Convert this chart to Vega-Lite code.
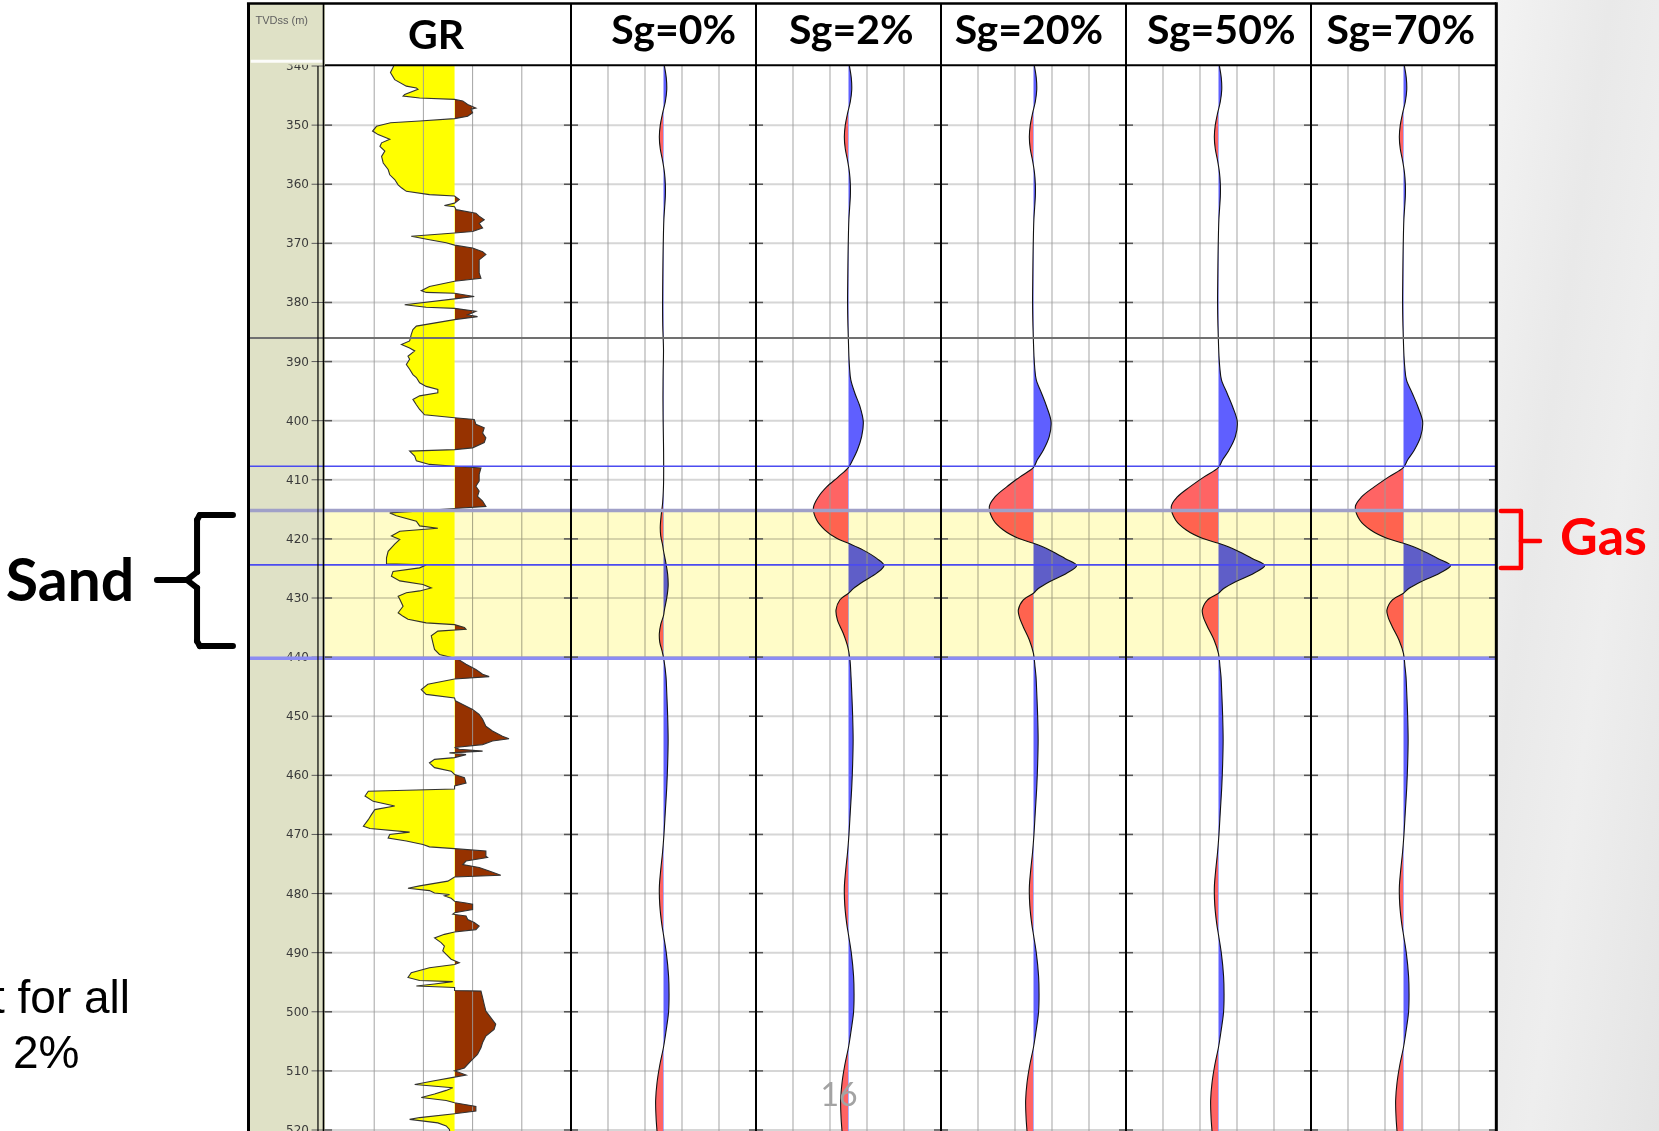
{
  "$schema": "https://vega.github.io/schema/vega-lite/v6.json",
  "padding": 0,
  "background": "#ffffff",
  "spacing": 0,
  "bounds": "flush",
  "config": {"view": {"stroke": null}, "axis": {"disable": true}, "legend": {"disable": true}},
  "datasets": {
    "depthTicks": [{"depth":340},{"depth":350},{"depth":360},{"depth":370},{"depth":380},{"depth":390},{"depth":400},{"depth":410},{"depth":420},{"depth":430},{"depth":440},{"depth":450},{"depth":460},{"depth":470},{"depth":480},{"depth":490},{"depth":500},{"depth":510},{"depth":520}],
    "surfaces": [{"depth":386.0,"surface":"H1"},{"depth":407.7,"surface":"H2"},{"depth":415.2,"surface":"Sand top"},{"depth":424.4,"surface":"GWC"},{"depth":440.2,"surface":"Sand base"}],
    "zones": [{"zone":"Sand","top":415.2,"base":440.2}],
    "gr": [
      {"depth":340.0,"gr":41.9},{"depth":341.1,"gr":39.9},{"depth":342.3,"gr":42.5},{"depth":343.4,"gr":49.6},{"depth":343.7,"gr":55.7},{"depth":343.95,"gr":56.7},{"depth":344.8,"gr":48.6},{"depth":345.1,"gr":47.6},{"depth":345.4,"gr":57.7},{"depth":345.65,"gr":79.0},{"depth":345.9,"gr":84.0},{"depth":346.5,"gr":87.0},{"depth":347.1,"gr":92.0},{"depth":347.3,"gr":89.0},{"depth":347.9,"gr":90.0},{"depth":348.5,"gr":87.0},{"depth":348.9,"gr":79.0},{"depth":349.3,"gr":57.7},{"depth":349.6,"gr":40.0},{"depth":350.2,"gr":31.4},{"depth":351.0,"gr":29.0},{"depth":351.6,"gr":32.4},{"depth":352.4,"gr":39.5},{"depth":353.0,"gr":34.5},{"depth":353.6,"gr":33.5},{"depth":354.4,"gr":36.5},{"depth":355.3,"gr":34.5},{"depth":356.4,"gr":35.5},{"depth":357.5,"gr":38.5},{"depth":358.4,"gr":39.5},{"depth":359.2,"gr":42.5},{"depth":360.1,"gr":44.6},{"depth":360.6,"gr":46.6},{"depth":361.2,"gr":49.6},{"depth":361.75,"gr":63.7},{"depth":362.0,"gr":79.0},{"depth":362.6,"gr":81.9},{"depth":363.2,"gr":79.0},{"depth":363.6,"gr":72.8},{"depth":363.8,"gr":79.0},{"depth":364.3,"gr":80.0},{"depth":364.9,"gr":92.0},{"depth":365.4,"gr":94.0},{"depth":366.0,"gr":97.1},{"depth":366.6,"gr":94.0},{"depth":367.4,"gr":96.1},{"depth":368.0,"gr":90.0},{"depth":368.25,"gr":79.0},{"depth":368.8,"gr":52.6},{"depth":369.4,"gr":63.7},{"depth":369.9,"gr":73.9},{"depth":370.3,"gr":79.0},{"depth":370.8,"gr":90.0},{"depth":371.4,"gr":96.1},{"depth":371.9,"gr":98.1},{"depth":372.8,"gr":94.0},{"depth":375.0,"gr":94.0},{"depth":375.9,"gr":95.1},{"depth":376.4,"gr":79.0},{"depth":377.3,"gr":63.7},{"depth":378.0,"gr":58.7},{"depth":378.3,"gr":61.7},{"depth":378.45,"gr":79.0},{"depth":379.0,"gr":91.0},{"depth":379.4,"gr":79.0},{"depth":380.4,"gr":48.6},{"depth":380.8,"gr":61.7},{"depth":381.0,"gr":79.0},{"depth":381.5,"gr":92.0},{"depth":382.1,"gr":87.0},{"depth":382.4,"gr":93.0},{"depth":382.9,"gr":79.0},{"depth":384.0,"gr":55.7},{"depth":384.6,"gr":53.6},{"depth":385.4,"gr":52.6},{"depth":386.5,"gr":51.6},{"depth":387.1,"gr":46.6},{"depth":387.7,"gr":51.6},{"depth":388.2,"gr":54.7},{"depth":389.1,"gr":50.6},{"depth":389.6,"gr":51.6},{"depth":390.5,"gr":49.6},{"depth":391.3,"gr":51.6},{"depth":392.2,"gr":53.6},{"depth":392.7,"gr":55.7},{"depth":393.6,"gr":57.7},{"depth":394.2,"gr":61.7},{"depth":394.7,"gr":68.8},{"depth":395.3,"gr":68.8},{"depth":395.8,"gr":57.7},{"depth":396.4,"gr":53.6},{"depth":397.3,"gr":55.7},{"depth":398.1,"gr":57.7},{"depth":399.0,"gr":60.7},{"depth":399.5,"gr":79.0},{"depth":399.8,"gr":91.0},{"depth":400.6,"gr":92.0},{"depth":401.2,"gr":97.1},{"depth":402.1,"gr":96.1},{"depth":402.9,"gr":98.1},{"depth":403.7,"gr":97.1},{"depth":404.6,"gr":90.0},{"depth":404.9,"gr":79.0},{"depth":405.15,"gr":51.6},{"depth":406.0,"gr":54.7},{"depth":406.8,"gr":55.7},{"depth":407.4,"gr":63.7},{"depth":407.7,"gr":79.0},{"depth":408.0,"gr":95.1},{"depth":409.1,"gr":94.0},{"depth":410.2,"gr":94.0},{"depth":411.1,"gr":92.0},{"depth":411.9,"gr":94.0},{"depth":412.8,"gr":93.0},{"depth":413.6,"gr":96.1},{"depth":414.5,"gr":98.1},{"depth":414.85,"gr":79.0},{"depth":415.3,"gr":55.7},{"depth":415.6,"gr":39.5},{"depth":416.1,"gr":43.5},{"depth":417.0,"gr":55.7},{"depth":417.8,"gr":57.7},{"depth":418.2,"gr":68.8},{"depth":418.7,"gr":45.6},{"depth":419.5,"gr":40.5},{"depth":420.1,"gr":45.6},{"depth":420.9,"gr":42.5},{"depth":422.1,"gr":38.5},{"depth":423.2,"gr":37.5},{"depth":424.2,"gr":37.5},{"depth":424.4,"gr":61.7},{"depth":424.9,"gr":57.7},{"depth":425.5,"gr":41.5},{"depth":426.3,"gr":40.5},{"depth":427.1,"gr":45.6},{"depth":427.7,"gr":59.7},{"depth":428.3,"gr":64.8},{"depth":428.8,"gr":57.7},{"depth":429.1,"gr":49.6},{"depth":429.7,"gr":44.6},{"depth":430.2,"gr":45.6},{"depth":431.4,"gr":47.6},{"depth":432.5,"gr":44.6},{"depth":433.1,"gr":47.6},{"depth":433.6,"gr":50.6},{"depth":434.2,"gr":61.7},{"depth":434.5,"gr":79.0},{"depth":435.0,"gr":85.0},{"depth":435.3,"gr":86.0},{"depth":435.6,"gr":68.8},{"depth":436.4,"gr":64.8},{"depth":437.6,"gr":65.8},{"depth":438.7,"gr":66.8},{"depth":439.55,"gr":69.8},{"depth":440.1,"gr":77.9},{"depth":440.5,"gr":81.9},{"depth":441.2,"gr":86.0},{"depth":442.1,"gr":92.0},{"depth":442.9,"gr":96.1},{"depth":443.3,"gr":100.1},{"depth":443.7,"gr":79.0},{"depth":444.6,"gr":62.7},{"depth":445.5,"gr":58.7},{"depth":446.3,"gr":61.7},{"depth":446.9,"gr":79.0},{"depth":447.4,"gr":79.5},{"depth":448.0,"gr":84.0},{"depth":448.85,"gr":90.0},{"depth":449.7,"gr":94.0},{"depth":450.5,"gr":96.1},{"depth":451.7,"gr":98.1},{"depth":452.5,"gr":102.1},{"depth":453.4,"gr":108.2},{"depth":453.8,"gr":112.2},{"depth":454.2,"gr":102.1},{"depth":454.8,"gr":96.1},{"depth":455.3,"gr":79.0},{"depth":455.6,"gr":81.9},{"depth":455.9,"gr":96.1},{"depth":456.2,"gr":75.9},{"depth":456.5,"gr":86.0},{"depth":457.0,"gr":79.0},{"depth":457.3,"gr":66.8},{"depth":457.9,"gr":63.7},{"depth":458.7,"gr":66.8},{"depth":459.3,"gr":76.9},{"depth":459.85,"gr":79.0},{"depth":460.4,"gr":85.0},{"depth":461.3,"gr":86.0},{"depth":461.8,"gr":79.0},{"depth":462.3,"gr":79.0},{"depth":462.7,"gr":26.4},{"depth":463.5,"gr":24.4},{"depth":464.4,"gr":29.4},{"depth":465.2,"gr":42.5},{"depth":465.8,"gr":30.4},{"depth":466.6,"gr":28.4},{"depth":467.5,"gr":26.4},{"depth":468.6,"gr":23.4},{"depth":469.0,"gr":27.4},{"depth":469.6,"gr":51.6},{"depth":470.0,"gr":39.5},{"depth":470.6,"gr":38.5},{"depth":471.1,"gr":49.6},{"depth":471.7,"gr":59.7},{"depth":472.1,"gr":63.7},{"depth":472.4,"gr":79.0},{"depth":472.8,"gr":98.1},{"depth":473.7,"gr":98.1},{"depth":473.9,"gr":99.1},{"depth":474.5,"gr":86.0},{"depth":475.1,"gr":84.0},{"depth":475.6,"gr":94.0},{"depth":476.2,"gr":100.1},{"depth":476.9,"gr":107.2},{"depth":477.2,"gr":79.0},{"depth":477.9,"gr":74.9},{"depth":478.7,"gr":57.7},{"depth":479.1,"gr":50.6},{"depth":479.5,"gr":63.7},{"depth":479.9,"gr":66.8},{"depth":480.15,"gr":75.9},{"depth":480.4,"gr":72.8},{"depth":480.8,"gr":76.9},{"depth":481.3,"gr":79.0},{"depth":481.6,"gr":86.0},{"depth":481.8,"gr":90.0},{"depth":482.7,"gr":90.0},{"depth":483.25,"gr":79.0},{"depth":483.5,"gr":77.9},{"depth":483.8,"gr":86.0},{"depth":484.4,"gr":87.0},{"depth":484.9,"gr":91.0},{"depth":485.5,"gr":94.0},{"depth":486.1,"gr":92.0},{"depth":486.5,"gr":79.0},{"depth":486.9,"gr":72.8},{"depth":487.5,"gr":66.8},{"depth":488.3,"gr":70.8},{"depth":488.9,"gr":72.8},{"depth":489.7,"gr":71.8},{"depth":490.3,"gr":73.9},{"depth":491.1,"gr":76.9},{"depth":491.7,"gr":81.9},{"depth":492.0,"gr":79.0},{"depth":492.55,"gr":63.7},{"depth":493.4,"gr":52.6},{"depth":494.2,"gr":50.6},{"depth":494.7,"gr":57.7},{"depth":494.9,"gr":77.9},{"depth":495.3,"gr":66.8},{"depth":495.65,"gr":55.7},{"depth":495.9,"gr":79.0},{"depth":496.4,"gr":79.0},{"depth":496.5,"gr":95.1},{"depth":497.6,"gr":96.1},{"depth":498.8,"gr":97.1},{"depth":499.9,"gr":98.1},{"depth":501.0,"gr":101.1},{"depth":502.1,"gr":104.1},{"depth":503.0,"gr":103.1},{"depth":504.1,"gr":98.1},{"depth":505.2,"gr":96.1},{"depth":506.1,"gr":95.1},{"depth":507.2,"gr":93.0},{"depth":508.3,"gr":89.0},{"depth":509.5,"gr":85.0},{"depth":510.0,"gr":79.0},{"depth":510.7,"gr":86.0},{"depth":511.05,"gr":79.0},{"depth":511.7,"gr":65.8},{"depth":512.3,"gr":54.7},{"depth":512.85,"gr":77.9},{"depth":513.3,"gr":73.9},{"depth":513.9,"gr":66.8},{"depth":514.5,"gr":58.7},{"depth":515.0,"gr":73.9},{"depth":515.4,"gr":79.0},{"depth":516.0,"gr":92.0},{"depth":516.8,"gr":92.0},{"depth":517.25,"gr":79.0},{"depth":517.9,"gr":57.7},{"depth":518.2,"gr":51.6},{"depth":518.8,"gr":68.8},{"depth":519.3,"gr":73.9},{"depth":519.9,"gr":75.9},{"depth":520.17,"gr":76.0}
    ],
    "synthetics": [
      {"case":"Sg=0%","depth":340,"amp":0.01},{"case":"Sg=0%","depth":342,"amp":0.03},{"case":"Sg=0%","depth":344,"amp":0.035},{"case":"Sg=0%","depth":346,"amp":0.02},{"case":"Sg=0%","depth":348,"amp":-0.01},{"case":"Sg=0%","depth":350,"amp":-0.035},{"case":"Sg=0%","depth":352,"amp":-0.045},{"case":"Sg=0%","depth":354,"amp":-0.035},{"case":"Sg=0%","depth":356,"amp":-0.01},{"case":"Sg=0%","depth":358,"amp":0.01},{"case":"Sg=0%","depth":360,"amp":0.02},{"case":"Sg=0%","depth":362,"amp":0.02},{"case":"Sg=0%","depth":364,"amp":0.012},{"case":"Sg=0%","depth":366,"amp":0.004},{"case":"Sg=0%","depth":368,"amp":0},{"case":"Sg=0%","depth":372,"amp":-0.005},{"case":"Sg=0%","depth":376,"amp":-0.008},{"case":"Sg=0%","depth":380,"amp":-0.01},{"case":"Sg=0%","depth":384,"amp":-0.008},
      {"case":"Sg=0%","depth":388,"amp":0},{"case":"Sg=0%","depth":392,"amp":-0.004},{"case":"Sg=0%","depth":396,"amp":-0.006},{"case":"Sg=0%","depth":400,"amp":-0.004},{"case":"Sg=0%","depth":404,"amp":0},{"case":"Sg=0%","depth":408,"amp":0.002},{"case":"Sg=0%","depth":411,"amp":0},{"case":"Sg=0%","depth":414,"amp":-0.01},{"case":"Sg=0%","depth":416,"amp":-0.025},{"case":"Sg=0%","depth":418,"amp":-0.035},{"case":"Sg=0%","depth":419.5,"amp":-0.03},{"case":"Sg=0%","depth":421,"amp":-0.01},{"case":"Sg=0%","depth":422,"amp":0},{"case":"Sg=0%","depth":424,"amp":0.025},{"case":"Sg=0%","depth":426,"amp":0.045},{"case":"Sg=0%","depth":428,"amp":0.05},{"case":"Sg=0%","depth":430,"amp":0.035},{"case":"Sg=0%","depth":432,"amp":0.01},{"case":"Sg=0%","depth":433,"amp":0},{"case":"Sg=0%","depth":434.5,"amp":-0.03},{"case":"Sg=0%","depth":436,"amp":-0.045},{"case":"Sg=0%","depth":437.5,"amp":-0.04},{"case":"Sg=0%","depth":439,"amp":-0.015},{"case":"Sg=0%","depth":440.5,"amp":0.005},{"case":"Sg=0%","depth":443.3,"amp":0.027},
      {"case":"Sg=0%","depth":446,"amp":0.035},{"case":"Sg=0%","depth":450,"amp":0.045},{"case":"Sg=0%","depth":454,"amp":0.05},{"case":"Sg=0%","depth":458,"amp":0.045},{"case":"Sg=0%","depth":462,"amp":0.035},{"case":"Sg=0%","depth":466,"amp":0.02},{"case":"Sg=0%","depth":470,"amp":0.005},{"case":"Sg=0%","depth":473,"amp":-0.01},{"case":"Sg=0%","depth":476,"amp":-0.03},{"case":"Sg=0%","depth":479,"amp":-0.045},{"case":"Sg=0%","depth":482,"amp":-0.04},{"case":"Sg=0%","depth":485,"amp":-0.02},{"case":"Sg=0%","depth":487,"amp":0},{"case":"Sg=0%","depth":490,"amp":0.03},{"case":"Sg=0%","depth":494,"amp":0.055},{"case":"Sg=0%","depth":497,"amp":0.06},{"case":"Sg=0%","depth":500,"amp":0.055},{"case":"Sg=0%","depth":503,"amp":0.03},{"case":"Sg=0%","depth":506,"amp":0},{"case":"Sg=0%","depth":509,"amp":-0.04},{"case":"Sg=0%","depth":512,"amp":-0.07},{"case":"Sg=0%","depth":515,"amp":-0.085},{"case":"Sg=0%","depth":518,"amp":-0.08},{"case":"Sg=0%","depth":520.17,"amp":-0.07},

      {"case":"Sg=2%","depth":340,"amp":0.01},{"case":"Sg=2%","depth":342,"amp":0.03},{"case":"Sg=2%","depth":344,"amp":0.035},{"case":"Sg=2%","depth":346,"amp":0.02},{"case":"Sg=2%","depth":348,"amp":-0.01},{"case":"Sg=2%","depth":350,"amp":-0.035},{"case":"Sg=2%","depth":352,"amp":-0.045},{"case":"Sg=2%","depth":354,"amp":-0.035},{"case":"Sg=2%","depth":356,"amp":-0.01},{"case":"Sg=2%","depth":358,"amp":0.01},{"case":"Sg=2%","depth":360,"amp":0.02},{"case":"Sg=2%","depth":362,"amp":0.02},{"case":"Sg=2%","depth":364,"amp":0.012},{"case":"Sg=2%","depth":366,"amp":0.004},{"case":"Sg=2%","depth":368,"amp":0},{"case":"Sg=2%","depth":372,"amp":-0.005},{"case":"Sg=2%","depth":376,"amp":-0.008},{"case":"Sg=2%","depth":380,"amp":-0.01},{"case":"Sg=2%","depth":384,"amp":-0.006},
      {"case":"Sg=2%","depth":387,"amp":0},{"case":"Sg=2%","depth":389,"amp":0.004},{"case":"Sg=2%","depth":391,"amp":0.011},{"case":"Sg=2%","depth":393.1,"amp":0.025},{"case":"Sg=2%","depth":395.4,"amp":0.07},{"case":"Sg=2%","depth":397.6,"amp":0.124},{"case":"Sg=2%","depth":400.2,"amp":0.16},{"case":"Sg=2%","depth":402.7,"amp":0.142},{"case":"Sg=2%","depth":405,"amp":0.095},{"case":"Sg=2%","depth":406.65,"amp":0.045},{"case":"Sg=2%","depth":407.9,"amp":0},{"case":"Sg=2%","depth":409.5,"amp":-0.11},{"case":"Sg=2%","depth":411.2,"amp":-0.236},{"case":"Sg=2%","depth":412.9,"amp":-0.326},{"case":"Sg=2%","depth":414.8,"amp":-0.38},{"case":"Sg=2%","depth":416.8,"amp":-0.344},{"case":"Sg=2%","depth":418.5,"amp":-0.254},{"case":"Sg=2%","depth":419.9,"amp":-0.128},{"case":"Sg=2%","depth":420.75,"amp":0},{"case":"Sg=2%","depth":421.9,"amp":0.16},{"case":"Sg=2%","depth":423.3,"amp":0.305},{"case":"Sg=2%","depth":424.5,"amp":0.384},{"case":"Sg=2%","depth":425.8,"amp":0.305},{"case":"Sg=2%","depth":427.2,"amp":0.16},{"case":"Sg=2%","depth":428.4,"amp":0.052},{"case":"Sg=2%","depth":429.2,"amp":0},{"case":"Sg=2%","depth":430.3,"amp":-0.092},{"case":"Sg=2%","depth":432,"amp":-0.135},{"case":"Sg=2%","depth":433.7,"amp":-0.12},{"case":"Sg=2%","depth":436,"amp":-0.056},{"case":"Sg=2%","depth":438.2,"amp":-0.009},{"case":"Sg=2%","depth":440.5,"amp":0.016},{"case":"Sg=2%","depth":443.3,"amp":0.027},
      {"case":"Sg=2%","depth":446,"amp":0.035},{"case":"Sg=2%","depth":450,"amp":0.045},{"case":"Sg=2%","depth":454,"amp":0.05},{"case":"Sg=2%","depth":458,"amp":0.045},{"case":"Sg=2%","depth":462,"amp":0.035},{"case":"Sg=2%","depth":466,"amp":0.02},{"case":"Sg=2%","depth":470,"amp":0.005},{"case":"Sg=2%","depth":473,"amp":-0.01},{"case":"Sg=2%","depth":476,"amp":-0.03},{"case":"Sg=2%","depth":479,"amp":-0.045},{"case":"Sg=2%","depth":482,"amp":-0.04},{"case":"Sg=2%","depth":485,"amp":-0.02},{"case":"Sg=2%","depth":487,"amp":0},{"case":"Sg=2%","depth":490,"amp":0.03},{"case":"Sg=2%","depth":494,"amp":0.055},{"case":"Sg=2%","depth":497,"amp":0.06},{"case":"Sg=2%","depth":500,"amp":0.055},{"case":"Sg=2%","depth":503,"amp":0.03},{"case":"Sg=2%","depth":506,"amp":0},{"case":"Sg=2%","depth":509,"amp":-0.04},{"case":"Sg=2%","depth":512,"amp":-0.07},{"case":"Sg=2%","depth":515,"amp":-0.085},{"case":"Sg=2%","depth":518,"amp":-0.08},{"case":"Sg=2%","depth":520.17,"amp":-0.07},

      {"case":"Sg=20%","depth":340,"amp":0.01},{"case":"Sg=20%","depth":342,"amp":0.03},{"case":"Sg=20%","depth":344,"amp":0.035},{"case":"Sg=20%","depth":346,"amp":0.02},{"case":"Sg=20%","depth":348,"amp":-0.01},{"case":"Sg=20%","depth":350,"amp":-0.035},{"case":"Sg=20%","depth":352,"amp":-0.045},{"case":"Sg=20%","depth":354,"amp":-0.035},{"case":"Sg=20%","depth":356,"amp":-0.01},{"case":"Sg=20%","depth":358,"amp":0.01},{"case":"Sg=20%","depth":360,"amp":0.02},{"case":"Sg=20%","depth":362,"amp":0.02},{"case":"Sg=20%","depth":364,"amp":0.012},{"case":"Sg=20%","depth":366,"amp":0.004},{"case":"Sg=20%","depth":368,"amp":0},{"case":"Sg=20%","depth":372,"amp":-0.005},{"case":"Sg=20%","depth":376,"amp":-0.008},{"case":"Sg=20%","depth":380,"amp":-0.01},{"case":"Sg=20%","depth":384,"amp":-0.006},
      {"case":"Sg=20%","depth":387,"amp":0},{"case":"Sg=20%","depth":389,"amp":0.005},{"case":"Sg=20%","depth":391,"amp":0.013},{"case":"Sg=20%","depth":393.1,"amp":0.03},{"case":"Sg=20%","depth":395.4,"amp":0.088},{"case":"Sg=20%","depth":397.6,"amp":0.142},{"case":"Sg=20%","depth":400.2,"amp":0.19},{"case":"Sg=20%","depth":402.7,"amp":0.17},{"case":"Sg=20%","depth":405,"amp":0.106},{"case":"Sg=20%","depth":406.65,"amp":0.04},{"case":"Sg=20%","depth":407.9,"amp":0},{"case":"Sg=20%","depth":409.5,"amp":-0.146},{"case":"Sg=20%","depth":411.2,"amp":-0.29},{"case":"Sg=20%","depth":412.9,"amp":-0.416},{"case":"Sg=20%","depth":414.5,"amp":-0.477},{"case":"Sg=20%","depth":416.8,"amp":-0.434},{"case":"Sg=20%","depth":418.5,"amp":-0.326},{"case":"Sg=20%","depth":419.9,"amp":-0.164},{"case":"Sg=20%","depth":420.75,"amp":0},{"case":"Sg=20%","depth":421.9,"amp":0.178},{"case":"Sg=20%","depth":423.3,"amp":0.34},{"case":"Sg=20%","depth":424.5,"amp":0.467},{"case":"Sg=20%","depth":425.8,"amp":0.358},{"case":"Sg=20%","depth":427.2,"amp":0.178},{"case":"Sg=20%","depth":428.4,"amp":0.052},{"case":"Sg=20%","depth":429.2,"amp":0},{"case":"Sg=20%","depth":430.3,"amp":-0.11},{"case":"Sg=20%","depth":432,"amp":-0.164},{"case":"Sg=20%","depth":433.2,"amp":-0.153},{"case":"Sg=20%","depth":434.9,"amp":-0.11},{"case":"Sg=20%","depth":437.1,"amp":-0.045},{"case":"Sg=20%","depth":439.4,"amp":0},{"case":"Sg=20%","depth":441.6,"amp":0.016},{"case":"Sg=20%","depth":443.3,"amp":0.027},
      {"case":"Sg=20%","depth":446,"amp":0.035},{"case":"Sg=20%","depth":450,"amp":0.045},{"case":"Sg=20%","depth":454,"amp":0.05},{"case":"Sg=20%","depth":458,"amp":0.045},{"case":"Sg=20%","depth":462,"amp":0.035},{"case":"Sg=20%","depth":466,"amp":0.02},{"case":"Sg=20%","depth":470,"amp":0.005},{"case":"Sg=20%","depth":473,"amp":-0.01},{"case":"Sg=20%","depth":476,"amp":-0.03},{"case":"Sg=20%","depth":479,"amp":-0.045},{"case":"Sg=20%","depth":482,"amp":-0.04},{"case":"Sg=20%","depth":485,"amp":-0.02},{"case":"Sg=20%","depth":487,"amp":0},{"case":"Sg=20%","depth":490,"amp":0.03},{"case":"Sg=20%","depth":494,"amp":0.055},{"case":"Sg=20%","depth":497,"amp":0.06},{"case":"Sg=20%","depth":500,"amp":0.055},{"case":"Sg=20%","depth":503,"amp":0.03},{"case":"Sg=20%","depth":506,"amp":0},{"case":"Sg=20%","depth":509,"amp":-0.04},{"case":"Sg=20%","depth":512,"amp":-0.07},{"case":"Sg=20%","depth":515,"amp":-0.085},{"case":"Sg=20%","depth":518,"amp":-0.08},{"case":"Sg=20%","depth":520.17,"amp":-0.07},

      {"case":"Sg=50%","depth":340,"amp":0.01},{"case":"Sg=50%","depth":342,"amp":0.03},{"case":"Sg=50%","depth":344,"amp":0.035},{"case":"Sg=50%","depth":346,"amp":0.02},{"case":"Sg=50%","depth":348,"amp":-0.01},{"case":"Sg=50%","depth":350,"amp":-0.035},{"case":"Sg=50%","depth":352,"amp":-0.045},{"case":"Sg=50%","depth":354,"amp":-0.035},{"case":"Sg=50%","depth":356,"amp":-0.01},{"case":"Sg=50%","depth":358,"amp":0.01},{"case":"Sg=50%","depth":360,"amp":0.02},{"case":"Sg=50%","depth":362,"amp":0.02},{"case":"Sg=50%","depth":364,"amp":0.012},{"case":"Sg=50%","depth":366,"amp":0.004},{"case":"Sg=50%","depth":368,"amp":0},{"case":"Sg=50%","depth":372,"amp":-0.005},{"case":"Sg=50%","depth":376,"amp":-0.008},{"case":"Sg=50%","depth":380,"amp":-0.01},{"case":"Sg=50%","depth":384,"amp":-0.006},
      {"case":"Sg=50%","depth":387,"amp":0},{"case":"Sg=50%","depth":389,"amp":0.005},{"case":"Sg=50%","depth":391,"amp":0.014},{"case":"Sg=50%","depth":393.1,"amp":0.032},{"case":"Sg=50%","depth":395.4,"amp":0.094},{"case":"Sg=50%","depth":397.6,"amp":0.152},{"case":"Sg=50%","depth":400.2,"amp":0.203},{"case":"Sg=50%","depth":402.7,"amp":0.182},{"case":"Sg=50%","depth":405,"amp":0.113},{"case":"Sg=50%","depth":406.65,"amp":0.043},{"case":"Sg=50%","depth":407.9,"amp":0},{"case":"Sg=50%","depth":409.5,"amp":-0.156},{"case":"Sg=50%","depth":411.2,"amp":-0.31},{"case":"Sg=50%","depth":412.9,"amp":-0.445},{"case":"Sg=50%","depth":414.5,"amp":-0.51},{"case":"Sg=50%","depth":416.8,"amp":-0.464},{"case":"Sg=50%","depth":418.5,"amp":-0.349},{"case":"Sg=50%","depth":419.9,"amp":-0.175},{"case":"Sg=50%","depth":420.75,"amp":0},{"case":"Sg=50%","depth":421.9,"amp":0.19},{"case":"Sg=50%","depth":423.3,"amp":0.364},{"case":"Sg=50%","depth":424.5,"amp":0.5},{"case":"Sg=50%","depth":425.8,"amp":0.383},{"case":"Sg=50%","depth":427.2,"amp":0.19},{"case":"Sg=50%","depth":428.4,"amp":0.056},{"case":"Sg=50%","depth":429.2,"amp":0},{"case":"Sg=50%","depth":430.3,"amp":-0.118},{"case":"Sg=50%","depth":432,"amp":-0.175},{"case":"Sg=50%","depth":433.2,"amp":-0.164},{"case":"Sg=50%","depth":434.9,"amp":-0.118},{"case":"Sg=50%","depth":437.1,"amp":-0.048},{"case":"Sg=50%","depth":439.4,"amp":0},{"case":"Sg=50%","depth":441.6,"amp":0.016},{"case":"Sg=50%","depth":443.3,"amp":0.027},
      {"case":"Sg=50%","depth":446,"amp":0.035},{"case":"Sg=50%","depth":450,"amp":0.045},{"case":"Sg=50%","depth":454,"amp":0.05},{"case":"Sg=50%","depth":458,"amp":0.045},{"case":"Sg=50%","depth":462,"amp":0.035},{"case":"Sg=50%","depth":466,"amp":0.02},{"case":"Sg=50%","depth":470,"amp":0.005},{"case":"Sg=50%","depth":473,"amp":-0.01},{"case":"Sg=50%","depth":476,"amp":-0.03},{"case":"Sg=50%","depth":479,"amp":-0.045},{"case":"Sg=50%","depth":482,"amp":-0.04},{"case":"Sg=50%","depth":485,"amp":-0.02},{"case":"Sg=50%","depth":487,"amp":0},{"case":"Sg=50%","depth":490,"amp":0.03},{"case":"Sg=50%","depth":494,"amp":0.055},{"case":"Sg=50%","depth":497,"amp":0.06},{"case":"Sg=50%","depth":500,"amp":0.055},{"case":"Sg=50%","depth":503,"amp":0.03},{"case":"Sg=50%","depth":506,"amp":0},{"case":"Sg=50%","depth":509,"amp":-0.04},{"case":"Sg=50%","depth":512,"amp":-0.07},{"case":"Sg=50%","depth":515,"amp":-0.085},{"case":"Sg=50%","depth":518,"amp":-0.08},{"case":"Sg=50%","depth":520.17,"amp":-0.07},

      {"case":"Sg=70%","depth":340,"amp":0.01},{"case":"Sg=70%","depth":342,"amp":0.03},{"case":"Sg=70%","depth":344,"amp":0.035},{"case":"Sg=70%","depth":346,"amp":0.02},{"case":"Sg=70%","depth":348,"amp":-0.01},{"case":"Sg=70%","depth":350,"amp":-0.035},{"case":"Sg=70%","depth":352,"amp":-0.045},{"case":"Sg=70%","depth":354,"amp":-0.035},{"case":"Sg=70%","depth":356,"amp":-0.01},{"case":"Sg=70%","depth":358,"amp":0.01},{"case":"Sg=70%","depth":360,"amp":0.02},{"case":"Sg=70%","depth":362,"amp":0.02},{"case":"Sg=70%","depth":364,"amp":0.012},{"case":"Sg=70%","depth":366,"amp":0.004},{"case":"Sg=70%","depth":368,"amp":0},{"case":"Sg=70%","depth":372,"amp":-0.005},{"case":"Sg=70%","depth":376,"amp":-0.008},{"case":"Sg=70%","depth":380,"amp":-0.01},{"case":"Sg=70%","depth":384,"amp":-0.006},
      {"case":"Sg=70%","depth":387,"amp":0},{"case":"Sg=70%","depth":389,"amp":0.005},{"case":"Sg=70%","depth":391,"amp":0.014},{"case":"Sg=70%","depth":393.1,"amp":0.032},{"case":"Sg=70%","depth":395.4,"amp":0.096},{"case":"Sg=70%","depth":397.6,"amp":0.155},{"case":"Sg=70%","depth":400.2,"amp":0.207},{"case":"Sg=70%","depth":402.7,"amp":0.185},{"case":"Sg=70%","depth":405,"amp":0.116},{"case":"Sg=70%","depth":406.65,"amp":0.044},{"case":"Sg=70%","depth":407.9,"amp":0},{"case":"Sg=70%","depth":409.5,"amp":-0.159},{"case":"Sg=70%","depth":411.2,"amp":-0.316},{"case":"Sg=70%","depth":412.9,"amp":-0.453},{"case":"Sg=70%","depth":414.5,"amp":-0.52},{"case":"Sg=70%","depth":416.8,"amp":-0.473},{"case":"Sg=70%","depth":418.5,"amp":-0.355},{"case":"Sg=70%","depth":419.9,"amp":-0.179},{"case":"Sg=70%","depth":420.75,"amp":0},{"case":"Sg=70%","depth":421.9,"amp":0.194},{"case":"Sg=70%","depth":423.3,"amp":0.371},{"case":"Sg=70%","depth":424.5,"amp":0.509},{"case":"Sg=70%","depth":425.8,"amp":0.39},{"case":"Sg=70%","depth":427.2,"amp":0.194},{"case":"Sg=70%","depth":428.4,"amp":0.057},{"case":"Sg=70%","depth":429.2,"amp":0},{"case":"Sg=70%","depth":430.3,"amp":-0.12},{"case":"Sg=70%","depth":432,"amp":-0.179},{"case":"Sg=70%","depth":433.2,"amp":-0.167},{"case":"Sg=70%","depth":434.9,"amp":-0.12},{"case":"Sg=70%","depth":437.1,"amp":-0.049},{"case":"Sg=70%","depth":439.4,"amp":0},{"case":"Sg=70%","depth":441.6,"amp":0.016},{"case":"Sg=70%","depth":443.3,"amp":0.027},
      {"case":"Sg=70%","depth":446,"amp":0.035},{"case":"Sg=70%","depth":450,"amp":0.045},{"case":"Sg=70%","depth":454,"amp":0.05},{"case":"Sg=70%","depth":458,"amp":0.045},{"case":"Sg=70%","depth":462,"amp":0.035},{"case":"Sg=70%","depth":466,"amp":0.02},{"case":"Sg=70%","depth":470,"amp":0.005},{"case":"Sg=70%","depth":473,"amp":-0.01},{"case":"Sg=70%","depth":476,"amp":-0.03},{"case":"Sg=70%","depth":479,"amp":-0.045},{"case":"Sg=70%","depth":482,"amp":-0.04},{"case":"Sg=70%","depth":485,"amp":-0.02},{"case":"Sg=70%","depth":487,"amp":0},{"case":"Sg=70%","depth":490,"amp":0.03},{"case":"Sg=70%","depth":494,"amp":0.055},{"case":"Sg=70%","depth":497,"amp":0.06},{"case":"Sg=70%","depth":500,"amp":0.055},{"case":"Sg=70%","depth":503,"amp":0.03},{"case":"Sg=70%","depth":506,"amp":0},{"case":"Sg=70%","depth":509,"amp":-0.04},{"case":"Sg=70%","depth":512,"amp":-0.07},{"case":"Sg=70%","depth":515,"amp":-0.085},{"case":"Sg=70%","depth":518,"amp":-0.08},{"case":"Sg=70%","depth":520.17,"amp":-0.07}
    ]
  },
  "hconcat": [
    {
      "width": 246, "height": 1131,
      "data": {"values": [{}]},
      "layer": [
        {"mark": {"type": "text", "text": "Sand", "font": "Lato", "fontWeight": "bold", "fontSize": 59, "align": "center", "baseline": "alphabetic", "color": "#000000"},
         "encoding": {"x": {"datum": 0.2846, "type": "quantitative", "scale": {"domain": [0, 1], "nice": false, "zero": false}}, "y": {"datum": 430.45, "type": "quantitative", "scale": {"domain": [328.83, 520.17], "reverse": true, "nice": false, "zero": false}}}},
        {"mark": {"type": "rule", "color": "#000000", "strokeWidth": 6, "strokeCap": "round"}, "encoding": {"x": {"datum": 0.812}, "x2": {"datum": 0.947}, "y": {"datum": 415.96}}},
        {"mark": {"type": "rule", "color": "#000000", "strokeWidth": 6, "strokeCap": "round"}, "encoding": {"x": {"datum": 0.812}, "x2": {"datum": 0.801}, "y": {"datum": 415.96}, "y2": {"datum": 416.8}}},
        {"mark": {"type": "rule", "color": "#000000", "strokeWidth": 6, "strokeCap": "round"}, "encoding": {"x": {"datum": 0.801}, "y": {"datum": 416.8}, "y2": {"datum": 425.6}}},
        {"mark": {"type": "rule", "color": "#000000", "strokeWidth": 6, "strokeCap": "round"}, "encoding": {"x": {"datum": 0.801}, "x2": {"datum": 0.76}, "y": {"datum": 425.6}, "y2": {"datum": 426.95}}},
        {"mark": {"type": "rule", "color": "#000000", "strokeWidth": 6, "strokeCap": "round"}, "encoding": {"x": {"datum": 0.638}, "x2": {"datum": 0.76}, "y": {"datum": 426.95}}},
        {"mark": {"type": "rule", "color": "#000000", "strokeWidth": 6, "strokeCap": "round"}, "encoding": {"x": {"datum": 0.76}, "x2": {"datum": 0.801}, "y": {"datum": 426.95}, "y2": {"datum": 428.3}}},
        {"mark": {"type": "rule", "color": "#000000", "strokeWidth": 6, "strokeCap": "round"}, "encoding": {"x": {"datum": 0.801}, "y": {"datum": 428.3}, "y2": {"datum": 437.3}}},
        {"mark": {"type": "rule", "color": "#000000", "strokeWidth": 6, "strokeCap": "round"}, "encoding": {"x": {"datum": 0.801}, "x2": {"datum": 0.812}, "y": {"datum": 437.3}, "y2": {"datum": 438.12}}},
        {"mark": {"type": "rule", "color": "#000000", "strokeWidth": 6, "strokeCap": "round"}, "encoding": {"x": {"datum": 0.812}, "x2": {"datum": 0.947}, "y": {"datum": 438.12}}},
        {"mark": {"type": "text", "text": "t for all", "font": "Liberation Sans", "fontSize": 46, "align": "right", "baseline": "alphabetic", "color": "#000000", "clip": true},
         "encoding": {"x": {"datum": 0.5285}, "y": {"datum": 500.26}}},
        {"mark": {"type": "text", "text": "2%", "font": "Liberation Sans", "fontSize": 46, "align": "left", "baseline": "alphabetic", "color": "#000000"},
         "encoding": {"x": {"datum": 0.0528}, "y": {"datum": 509.56}}}
      ]
    },
    {
      "width": 79, "height": 1131,
      "data": {"values": [{}]},
      "layer": [
        {"mark": {"type": "rect", "color": "#dfe1c6"},
         "encoding": {"x": {"datum": 0.03, "type": "quantitative", "scale": {"domain": [0, 1], "nice": false, "zero": false}}, "x2": {"datum": 1}, "y": {"datum": 329.34, "type": "quantitative", "scale": {"domain": [328.83, 520.17], "reverse": true, "nice": false, "zero": false}}, "y2": {"datum": 520.17}}},
        {"data": {"name": "depthTicks"},
         "mark": {"type": "text", "font": "DejaVu Sans", "fontSize": 12, "align": "right", "baseline": "middle", "color": "#3a3a3a"},
         "encoding": {"x": {"datum": 0.797}, "y": {"field": "depth", "type": "quantitative"}, "text": {"field": "depth", "type": "quantitative", "format": "d"}}},
        {"data": {"name": "depthTicks"},
         "mark": {"type": "rule", "color": "#5a5a5a", "strokeWidth": 1},
         "encoding": {"x": {"datum": 0.83}, "x2": {"datum": 1}, "y": {"field": "depth", "type": "quantitative"}}},
        {"mark": {"type": "rect", "color": "#dfe1c6"},
         "encoding": {"x": {"datum": 0.03}, "x2": {"datum": 1}, "y": {"datum": 329.34}, "y2": {"datum": 339.8}}},
        {"mark": {"type": "rule", "color": "#ffffff", "strokeWidth": 3, "opacity": 0.9}, "encoding": {"x": {"datum": 0.06}, "x2": {"datum": 0.97}, "y": {"datum": 339.2}}},
        {"data": {"name": "surfaces"}, "mark": {"type": "rule"},
         "encoding": {"y": {"field": "depth", "type": "quantitative"}, "x": {"datum": 0.03}, "x2": {"datum": 1},
           "color": {"field": "surface", "type": "nominal", "scale": {"domain": ["H1", "H2", "Sand top", "GWC", "Sand base"], "range": ["#707070", "#4b4bf0", "#a0a0c8", "#4b4bf0", "#8c8cf2"]}, "legend": null},
           "strokeWidth": {"field": "surface", "type": "nominal", "scale": {"type": "ordinal", "domain": ["H1", "H2", "Sand top", "GWC", "Sand base"], "range": [2, 1.6, 3.5, 1.6, 3.5]}, "legend": null}}},
        {"mark": {"type": "rule", "color": "#000000", "strokeWidth": 3}, "encoding": {"x": {"datum": 0.0316}, "y": {"datum": 329.34}, "y2": {"datum": 520.17}}},
        {"mark": {"type": "rule", "color": "#000000", "strokeWidth": 1.2}, "encoding": {"x": {"datum": 0.911}, "y": {"datum": 340}, "y2": {"datum": 520.17}}},
        {"mark": {"type": "rule", "color": "#000000", "strokeWidth": 1.6}, "encoding": {"x": {"datum": 0.981}, "y": {"datum": 329.34}, "y2": {"datum": 520.17}}},
        {"mark": {"type": "rule", "color": "#000000", "strokeWidth": 2.5}, "encoding": {"x": {"datum": 0.012}, "x2": {"datum": 1}, "y": {"datum": 329.42}}},
        {"mark": {"type": "text", "text": "TVDss (m)", "font": "Liberation Sans", "fontSize": 11, "align": "left", "baseline": "alphabetic", "color": "#606060"},
         "encoding": {"x": {"datum": 0.12}, "y": {"datum": 332.9}}}
      ]
    },
    {
      "width": 246, "height": 1131,
      "data": {"values": [{}]},
      "layer": [
        {"data": {"name": "depthTicks"}, "transform": [{"filter": "datum.depth > 340"}],
         "mark": {"type": "rule", "color": "#d6d6d6", "strokeWidth": 2},
         "encoding": {"y": {"field": "depth", "type": "quantitative", "scale": {"domain": [328.83, 520.17], "reverse": true, "nice": false, "zero": false}}, "x": {"datum": 0, "type": "quantitative", "scale": {"domain": [0, 150], "nice": false, "zero": false}}, "x2": {"datum": 150}}},
        {"data": {"name": "gr"},
         "mark": {"type": "area", "orient": "horizontal", "interpolate": "linear",
           "color": {"gradient": "linear", "x1": 0, "y1": 0, "x2": 1, "y2": 0, "stops": [{"offset": 0, "color": "#ffff00"}, {"offset": 0.62613, "color": "#ffff00"}, {"offset": 0.62613, "color": "#963200"}, {"offset": 1, "color": "#963200"}]}},
         "encoding": {"y": {"field": "depth", "type": "quantitative"}, "x": {"field": "gr", "type": "quantitative"}, "x2": {"datum": 79}}},
        {"data": {"values": [{"gr": 30}, {"gr": 60}, {"gr": 90}, {"gr": 120}]},
         "mark": {"type": "rule", "color": "#9a9a9a", "strokeWidth": 1, "opacity": 0.9},
         "encoding": {"x": {"field": "gr", "type": "quantitative"}, "y": {"datum": 340}, "y2": {"datum": 520.17}}},
        {"data": {"name": "gr"},
         "mark": {"type": "line", "interpolate": "linear", "color": "#333333", "strokeWidth": 1.1},
         "encoding": {"y": {"field": "depth", "type": "quantitative"}, "x": {"field": "gr", "type": "quantitative"}, "order": {"field": "depth", "type": "quantitative"}}},
        {"data": {"name": "zones"},
         "mark": {"type": "rect", "color": "#fffcc8", "blend": "multiply"},
         "encoding": {"y": {"field": "top", "type": "quantitative"}, "y2": {"field": "base"}, "x": {"datum": 0}, "x2": {"datum": 150}}},
        {"data": {"name": "surfaces"}, "mark": {"type": "rule"},
         "encoding": {"y": {"field": "depth", "type": "quantitative"}, "x": {"datum": 0}, "x2": {"datum": 150},
           "color": {"field": "surface", "type": "nominal", "scale": {"domain": ["H1", "H2", "Sand top", "GWC", "Sand base"], "range": ["#707070", "#4b4bf0", "#a0a0c8", "#4b4bf0", "#8c8cf2"]}, "legend": null},
           "strokeWidth": {"field": "surface", "type": "nominal", "scale": {"type": "ordinal", "domain": ["H1", "H2", "Sand top", "GWC", "Sand base"], "range": [2, 1.6, 3.5, 1.6, 3.5]}, "legend": null}}},
        {"data": {"name": "depthTicks"}, "transform": [{"filter": "datum.depth > 340"}],
         "mark": {"type": "rule", "color": "#555555", "strokeWidth": 1.5},
         "encoding": {"y": {"field": "depth", "type": "quantitative"}, "x": {"datum": 0}, "x2": {"datum": 4.3}}},
        {"data": {"name": "depthTicks"}, "transform": [{"filter": "datum.depth > 340"}],
         "mark": {"type": "rule", "color": "#555555", "strokeWidth": 1.5},
         "encoding": {"y": {"field": "depth", "type": "quantitative"}, "x": {"datum": 145.7}, "x2": {"datum": 150}}},
        {"mark": {"type": "rule", "color": "#000000", "strokeWidth": 2.5}, "encoding": {"x": {"datum": 0}, "x2": {"datum": 150}, "y": {"datum": 329.42}}},
        {"mark": {"type": "rule", "color": "#000000", "strokeWidth": 2}, "encoding": {"x": {"datum": 0}, "x2": {"datum": 150}, "y": {"datum": 339.85}}},
        {"mark": {"type": "text", "text": "GR", "font": "Lato", "fontWeight": "bold", "fontSize": 41, "align": "center", "baseline": "alphabetic", "color": "#000000"},
         "encoding": {"x": {"datum": 67.7}, "y": {"datum": 337.07}}}
      ]
    },
    {
      "width": 185, "height": 1131,
      "data": {"values": [{}]},
      "layer": [
        {"data": {"name": "depthTicks"}, "transform": [{"filter": "datum.depth > 340"}],
         "mark": {"type": "rule", "color": "#d6d6d6", "strokeWidth": 2},
         "encoding": {"y": {"field": "depth", "type": "quantitative", "scale": {"domain": [328.83, 520.17], "reverse": true, "nice": false, "zero": false}}, "x": {"datum": -1, "type": "quantitative", "scale": {"domain": [-1, 1], "nice": false, "zero": false}}, "x2": {"datum": 1}}},
        {"data": {"name": "synthetics"}, "transform": [{"filter": "datum.case === 'Sg=0%'"}],
         "mark": {"type": "area", "orient": "horizontal", "interpolate": "catmull-rom",
           "color": {"gradient": "linear", "x1": 0, "y1": 0, "x2": 1, "y2": 0, "stops": [{"offset": 0, "color": "#ff6464"}, {"offset": 0.5862, "color": "#ff6464"}, {"offset": 0.5862, "color": "#5f5fff"}, {"offset": 1, "color": "#5f5fff"}]}},
         "encoding": {"y": {"field": "depth", "type": "quantitative"}, "x": {"field": "amp", "type": "quantitative"}, "x2": {"datum": 0}}},
        {"data": {"values": [{"amp": -0.6}, {"amp": -0.2}, {"amp": 0.2}, {"amp": 0.6}]},
         "mark": {"type": "rule", "color": "#9a9a9a", "strokeWidth": 1, "opacity": 0.9},
         "encoding": {"x": {"field": "amp", "type": "quantitative"}, "y": {"datum": 340}, "y2": {"datum": 520.17}}},
        {"data": {"name": "synthetics"}, "transform": [{"filter": "datum.case === 'Sg=0%'"}],
         "mark": {"type": "line", "interpolate": "catmull-rom", "color": "#111111", "strokeWidth": 1.1},
         "encoding": {"y": {"field": "depth", "type": "quantitative"}, "x": {"field": "amp", "type": "quantitative"}, "order": {"field": "depth", "type": "quantitative"}}},
        {"data": {"name": "zones"},
         "mark": {"type": "rect", "color": "#fffcc8", "blend": "multiply"},
         "encoding": {"y": {"field": "top", "type": "quantitative"}, "y2": {"field": "base"}, "x": {"datum": -1}, "x2": {"datum": 1}}},
        {"data": {"name": "surfaces"}, "mark": {"type": "rule"},
         "encoding": {"y": {"field": "depth", "type": "quantitative"}, "x": {"datum": -1}, "x2": {"datum": 1},
           "color": {"field": "surface", "type": "nominal", "scale": {"domain": ["H1", "H2", "Sand top", "GWC", "Sand base"], "range": ["#707070", "#4b4bf0", "#a0a0c8", "#4b4bf0", "#8c8cf2"]}, "legend": null},
           "strokeWidth": {"field": "surface", "type": "nominal", "scale": {"type": "ordinal", "domain": ["H1", "H2", "Sand top", "GWC", "Sand base"], "range": [2, 1.6, 3.5, 1.6, 3.5]}, "legend": null}}},
        {"data": {"name": "depthTicks"}, "transform": [{"filter": "datum.depth > 340"}],
         "mark": {"type": "rule", "color": "#555555", "strokeWidth": 1.5},
         "encoding": {"y": {"field": "depth", "type": "quantitative"}, "x": {"datum": -1}, "x2": {"datum": -0.924}}},
        {"data": {"name": "depthTicks"}, "transform": [{"filter": "datum.depth > 340"}],
         "mark": {"type": "rule", "color": "#555555", "strokeWidth": 1.5},
         "encoding": {"y": {"field": "depth", "type": "quantitative"}, "x": {"datum": 0.924}, "x2": {"datum": 1}}},
        {"mark": {"type": "rule", "color": "#000000", "strokeWidth": 2}, "encoding": {"x": {"datum": -1}, "y": {"datum": 329.34}, "y2": {"datum": 520.17}}},
        {"mark": {"type": "rule", "color": "#000000", "strokeWidth": 2.5}, "encoding": {"x": {"datum": -1}, "x2": {"datum": 1}, "y": {"datum": 329.42}}},
        {"mark": {"type": "rule", "color": "#000000", "strokeWidth": 2}, "encoding": {"x": {"datum": -1}, "x2": {"datum": 1}, "y": {"datum": 339.85}}},
        {"mark": {"type": "text", "text": "Sg=0%", "font": "Lato", "fontWeight": "bold", "fontSize": 41, "align": "center", "baseline": "alphabetic", "color": "#000000"},
         "encoding": {"x": {"datum": 0.11}, "y": {"datum": 336.3}}}
      ]
    },
    {
      "width": 185, "height": 1131,
      "data": {"values": [{}]},
      "layer": [
        {"data": {"name": "depthTicks"}, "transform": [{"filter": "datum.depth > 340"}],
         "mark": {"type": "rule", "color": "#d6d6d6", "strokeWidth": 2},
         "encoding": {"y": {"field": "depth", "type": "quantitative", "scale": {"domain": [328.83, 520.17], "reverse": true, "nice": false, "zero": false}}, "x": {"datum": -1, "type": "quantitative", "scale": {"domain": [-1, 1], "nice": false, "zero": false}}, "x2": {"datum": 1}}},
        {"data": {"name": "synthetics"}, "transform": [{"filter": "datum.case === 'Sg=2%'"}],
         "mark": {"type": "area", "orient": "horizontal", "interpolate": "catmull-rom",
           "color": {"gradient": "linear", "x1": 0, "y1": 0, "x2": 1, "y2": 0, "stops": [{"offset": 0, "color": "#ff6464"}, {"offset": 0.4974, "color": "#ff6464"}, {"offset": 0.4974, "color": "#5f5fff"}, {"offset": 1, "color": "#5f5fff"}]}},
         "encoding": {"y": {"field": "depth", "type": "quantitative"}, "x": {"field": "amp", "type": "quantitative"}, "x2": {"datum": 0}}},
        {"data": {"values": [{"amp": -0.6}, {"amp": -0.2}, {"amp": 0.2}, {"amp": 0.6}]},
         "mark": {"type": "rule", "color": "#9a9a9a", "strokeWidth": 1, "opacity": 0.9},
         "encoding": {"x": {"field": "amp", "type": "quantitative"}, "y": {"datum": 340}, "y2": {"datum": 520.17}}},
        {"data": {"name": "synthetics"}, "transform": [{"filter": "datum.case === 'Sg=2%'"}],
         "mark": {"type": "line", "interpolate": "catmull-rom", "color": "#111111", "strokeWidth": 1.1},
         "encoding": {"y": {"field": "depth", "type": "quantitative"}, "x": {"field": "amp", "type": "quantitative"}, "order": {"field": "depth", "type": "quantitative"}}},
        {"data": {"name": "zones"},
         "mark": {"type": "rect", "color": "#fffcc8", "blend": "multiply"},
         "encoding": {"y": {"field": "top", "type": "quantitative"}, "y2": {"field": "base"}, "x": {"datum": -1}, "x2": {"datum": 1}}},
        {"data": {"name": "surfaces"}, "mark": {"type": "rule"},
         "encoding": {"y": {"field": "depth", "type": "quantitative"}, "x": {"datum": -1}, "x2": {"datum": 1},
           "color": {"field": "surface", "type": "nominal", "scale": {"domain": ["H1", "H2", "Sand top", "GWC", "Sand base"], "range": ["#707070", "#4b4bf0", "#a0a0c8", "#4b4bf0", "#8c8cf2"]}, "legend": null},
           "strokeWidth": {"field": "surface", "type": "nominal", "scale": {"type": "ordinal", "domain": ["H1", "H2", "Sand top", "GWC", "Sand base"], "range": [2, 1.6, 3.5, 1.6, 3.5]}, "legend": null}}},
        {"data": {"name": "depthTicks"}, "transform": [{"filter": "datum.depth > 340"}],
         "mark": {"type": "rule", "color": "#555555", "strokeWidth": 1.5},
         "encoding": {"y": {"field": "depth", "type": "quantitative"}, "x": {"datum": -1}, "x2": {"datum": -0.924}}},
        {"data": {"name": "depthTicks"}, "transform": [{"filter": "datum.depth > 340"}],
         "mark": {"type": "rule", "color": "#555555", "strokeWidth": 1.5},
         "encoding": {"y": {"field": "depth", "type": "quantitative"}, "x": {"datum": 0.924}, "x2": {"datum": 1}}},
        {"mark": {"type": "rule", "color": "#000000", "strokeWidth": 2}, "encoding": {"x": {"datum": -1}, "y": {"datum": 329.34}, "y2": {"datum": 520.17}}},
        {"mark": {"type": "rule", "color": "#000000", "strokeWidth": 2.5}, "encoding": {"x": {"datum": -1}, "x2": {"datum": 1}, "y": {"datum": 329.42}}},
        {"mark": {"type": "rule", "color": "#000000", "strokeWidth": 2}, "encoding": {"x": {"datum": -1}, "x2": {"datum": 1}, "y": {"datum": 339.85}}},
        {"mark": {"type": "text", "text": "Sg=2%", "font": "Lato", "fontWeight": "bold", "fontSize": 41, "align": "center", "baseline": "alphabetic", "color": "#000000"},
         "encoding": {"x": {"datum": 0.03}, "y": {"datum": 336.3}}},
        {"mark": {"type": "text", "text": "16", "font": "Lato", "fontSize": 32, "align": "center", "baseline": "alphabetic", "color": "#a3a3a3"},
         "encoding": {"x": {"datum": -0.103}, "y": {"datum": 515.94}}}
      ]
    },
    {
      "width": 185, "height": 1131,
      "data": {"values": [{}]},
      "layer": [
        {"data": {"name": "depthTicks"}, "transform": [{"filter": "datum.depth > 340"}],
         "mark": {"type": "rule", "color": "#d6d6d6", "strokeWidth": 2},
         "encoding": {"y": {"field": "depth", "type": "quantitative", "scale": {"domain": [328.83, 520.17], "reverse": true, "nice": false, "zero": false}}, "x": {"datum": -1, "type": "quantitative", "scale": {"domain": [-1, 1], "nice": false, "zero": false}}, "x2": {"datum": 1}}},
        {"data": {"name": "synthetics"}, "transform": [{"filter": "datum.case === 'Sg=20%'"}],
         "mark": {"type": "area", "orient": "horizontal", "interpolate": "catmull-rom",
           "color": {"gradient": "linear", "x1": 0, "y1": 0, "x2": 1, "y2": 0, "stops": [{"offset": 0, "color": "#ff6464"}, {"offset": 0.5053, "color": "#ff6464"}, {"offset": 0.5053, "color": "#5f5fff"}, {"offset": 1, "color": "#5f5fff"}]}},
         "encoding": {"y": {"field": "depth", "type": "quantitative"}, "x": {"field": "amp", "type": "quantitative"}, "x2": {"datum": 0}}},
        {"data": {"values": [{"amp": -0.6}, {"amp": -0.2}, {"amp": 0.2}, {"amp": 0.6}]},
         "mark": {"type": "rule", "color": "#9a9a9a", "strokeWidth": 1, "opacity": 0.9},
         "encoding": {"x": {"field": "amp", "type": "quantitative"}, "y": {"datum": 340}, "y2": {"datum": 520.17}}},
        {"data": {"name": "synthetics"}, "transform": [{"filter": "datum.case === 'Sg=20%'"}],
         "mark": {"type": "line", "interpolate": "catmull-rom", "color": "#111111", "strokeWidth": 1.1},
         "encoding": {"y": {"field": "depth", "type": "quantitative"}, "x": {"field": "amp", "type": "quantitative"}, "order": {"field": "depth", "type": "quantitative"}}},
        {"data": {"name": "zones"},
         "mark": {"type": "rect", "color": "#fffcc8", "blend": "multiply"},
         "encoding": {"y": {"field": "top", "type": "quantitative"}, "y2": {"field": "base"}, "x": {"datum": -1}, "x2": {"datum": 1}}},
        {"data": {"name": "surfaces"}, "mark": {"type": "rule"},
         "encoding": {"y": {"field": "depth", "type": "quantitative"}, "x": {"datum": -1}, "x2": {"datum": 1},
           "color": {"field": "surface", "type": "nominal", "scale": {"domain": ["H1", "H2", "Sand top", "GWC", "Sand base"], "range": ["#707070", "#4b4bf0", "#a0a0c8", "#4b4bf0", "#8c8cf2"]}, "legend": null},
           "strokeWidth": {"field": "surface", "type": "nominal", "scale": {"type": "ordinal", "domain": ["H1", "H2", "Sand top", "GWC", "Sand base"], "range": [2, 1.6, 3.5, 1.6, 3.5]}, "legend": null}}},
        {"data": {"name": "depthTicks"}, "transform": [{"filter": "datum.depth > 340"}],
         "mark": {"type": "rule", "color": "#555555", "strokeWidth": 1.5},
         "encoding": {"y": {"field": "depth", "type": "quantitative"}, "x": {"datum": -1}, "x2": {"datum": -0.924}}},
        {"data": {"name": "depthTicks"}, "transform": [{"filter": "datum.depth > 340"}],
         "mark": {"type": "rule", "color": "#555555", "strokeWidth": 1.5},
         "encoding": {"y": {"field": "depth", "type": "quantitative"}, "x": {"datum": 0.924}, "x2": {"datum": 1}}},
        {"mark": {"type": "rule", "color": "#000000", "strokeWidth": 2}, "encoding": {"x": {"datum": -1}, "y": {"datum": 329.34}, "y2": {"datum": 520.17}}},
        {"mark": {"type": "rule", "color": "#000000", "strokeWidth": 2.5}, "encoding": {"x": {"datum": -1}, "x2": {"datum": 1}, "y": {"datum": 329.42}}},
        {"mark": {"type": "rule", "color": "#000000", "strokeWidth": 2}, "encoding": {"x": {"datum": -1}, "x2": {"datum": 1}, "y": {"datum": 339.85}}},
        {"mark": {"type": "text", "text": "Sg=20%", "font": "Lato", "fontWeight": "bold", "fontSize": 41, "align": "center", "baseline": "alphabetic", "color": "#000000"},
         "encoding": {"x": {"datum": -0.05}, "y": {"datum": 336.3}}}
      ]
    },
    {
      "width": 185, "height": 1131,
      "data": {"values": [{}]},
      "layer": [
        {"data": {"name": "depthTicks"}, "transform": [{"filter": "datum.depth > 340"}],
         "mark": {"type": "rule", "color": "#d6d6d6", "strokeWidth": 2},
         "encoding": {"y": {"field": "depth", "type": "quantitative", "scale": {"domain": [328.83, 520.17], "reverse": true, "nice": false, "zero": false}}, "x": {"datum": -1, "type": "quantitative", "scale": {"domain": [-1, 1], "nice": false, "zero": false}}, "x2": {"datum": 1}}},
        {"data": {"name": "synthetics"}, "transform": [{"filter": "datum.case === 'Sg=50%'"}],
         "mark": {"type": "area", "orient": "horizontal", "interpolate": "catmull-rom",
           "color": {"gradient": "linear", "x1": 0, "y1": 0, "x2": 1, "y2": 0, "stops": [{"offset": 0, "color": "#ff6464"}, {"offset": 0.505, "color": "#ff6464"}, {"offset": 0.505, "color": "#5f5fff"}, {"offset": 1, "color": "#5f5fff"}]}},
         "encoding": {"y": {"field": "depth", "type": "quantitative"}, "x": {"field": "amp", "type": "quantitative"}, "x2": {"datum": 0}}},
        {"data": {"values": [{"amp": -0.6}, {"amp": -0.2}, {"amp": 0.2}, {"amp": 0.6}]},
         "mark": {"type": "rule", "color": "#9a9a9a", "strokeWidth": 1, "opacity": 0.9},
         "encoding": {"x": {"field": "amp", "type": "quantitative"}, "y": {"datum": 340}, "y2": {"datum": 520.17}}},
        {"data": {"name": "synthetics"}, "transform": [{"filter": "datum.case === 'Sg=50%'"}],
         "mark": {"type": "line", "interpolate": "catmull-rom", "color": "#111111", "strokeWidth": 1.1},
         "encoding": {"y": {"field": "depth", "type": "quantitative"}, "x": {"field": "amp", "type": "quantitative"}, "order": {"field": "depth", "type": "quantitative"}}},
        {"data": {"name": "zones"},
         "mark": {"type": "rect", "color": "#fffcc8", "blend": "multiply"},
         "encoding": {"y": {"field": "top", "type": "quantitative"}, "y2": {"field": "base"}, "x": {"datum": -1}, "x2": {"datum": 1}}},
        {"data": {"name": "surfaces"}, "mark": {"type": "rule"},
         "encoding": {"y": {"field": "depth", "type": "quantitative"}, "x": {"datum": -1}, "x2": {"datum": 1},
           "color": {"field": "surface", "type": "nominal", "scale": {"domain": ["H1", "H2", "Sand top", "GWC", "Sand base"], "range": ["#707070", "#4b4bf0", "#a0a0c8", "#4b4bf0", "#8c8cf2"]}, "legend": null},
           "strokeWidth": {"field": "surface", "type": "nominal", "scale": {"type": "ordinal", "domain": ["H1", "H2", "Sand top", "GWC", "Sand base"], "range": [2, 1.6, 3.5, 1.6, 3.5]}, "legend": null}}},
        {"data": {"name": "depthTicks"}, "transform": [{"filter": "datum.depth > 340"}],
         "mark": {"type": "rule", "color": "#555555", "strokeWidth": 1.5},
         "encoding": {"y": {"field": "depth", "type": "quantitative"}, "x": {"datum": -1}, "x2": {"datum": -0.924}}},
        {"data": {"name": "depthTicks"}, "transform": [{"filter": "datum.depth > 340"}],
         "mark": {"type": "rule", "color": "#555555", "strokeWidth": 1.5},
         "encoding": {"y": {"field": "depth", "type": "quantitative"}, "x": {"datum": 0.924}, "x2": {"datum": 1}}},
        {"mark": {"type": "rule", "color": "#000000", "strokeWidth": 2}, "encoding": {"x": {"datum": -1}, "y": {"datum": 329.34}, "y2": {"datum": 520.17}}},
        {"mark": {"type": "rule", "color": "#000000", "strokeWidth": 2.5}, "encoding": {"x": {"datum": -1}, "x2": {"datum": 1}, "y": {"datum": 329.42}}},
        {"mark": {"type": "rule", "color": "#000000", "strokeWidth": 2}, "encoding": {"x": {"datum": -1}, "x2": {"datum": 1}, "y": {"datum": 339.85}}},
        {"mark": {"type": "text", "text": "Sg=50%", "font": "Lato", "fontWeight": "bold", "fontSize": 41, "align": "center", "baseline": "alphabetic", "color": "#000000"},
         "encoding": {"x": {"datum": 0.03}, "y": {"datum": 336.3}}}
      ]
    },
    {
      "width": 185, "height": 1131,
      "data": {"values": [{}]},
      "layer": [
        {"data": {"name": "depthTicks"}, "transform": [{"filter": "datum.depth > 340"}],
         "mark": {"type": "rule", "color": "#d6d6d6", "strokeWidth": 2},
         "encoding": {"y": {"field": "depth", "type": "quantitative", "scale": {"domain": [328.83, 520.17], "reverse": true, "nice": false, "zero": false}}, "x": {"datum": -1, "type": "quantitative", "scale": {"domain": [-1, 1], "nice": false, "zero": false}}, "x2": {"datum": 1}}},
        {"data": {"name": "synthetics"}, "transform": [{"filter": "datum.case === 'Sg=70%'"}],
         "mark": {"type": "area", "orient": "horizontal", "interpolate": "catmull-rom",
           "color": {"gradient": "linear", "x1": 0, "y1": 0, "x2": 1, "y2": 0, "stops": [{"offset": 0, "color": "#ff6464"}, {"offset": 0.5053, "color": "#ff6464"}, {"offset": 0.5053, "color": "#5f5fff"}, {"offset": 1, "color": "#5f5fff"}]}},
         "encoding": {"y": {"field": "depth", "type": "quantitative"}, "x": {"field": "amp", "type": "quantitative"}, "x2": {"datum": 0}}},
        {"data": {"values": [{"amp": -0.6}, {"amp": -0.2}, {"amp": 0.2}, {"amp": 0.6}]},
         "mark": {"type": "rule", "color": "#9a9a9a", "strokeWidth": 1, "opacity": 0.9},
         "encoding": {"x": {"field": "amp", "type": "quantitative"}, "y": {"datum": 340}, "y2": {"datum": 520.17}}},
        {"data": {"name": "synthetics"}, "transform": [{"filter": "datum.case === 'Sg=70%'"}],
         "mark": {"type": "line", "interpolate": "catmull-rom", "color": "#111111", "strokeWidth": 1.1},
         "encoding": {"y": {"field": "depth", "type": "quantitative"}, "x": {"field": "amp", "type": "quantitative"}, "order": {"field": "depth", "type": "quantitative"}}},
        {"data": {"name": "zones"},
         "mark": {"type": "rect", "color": "#fffcc8", "blend": "multiply"},
         "encoding": {"y": {"field": "top", "type": "quantitative"}, "y2": {"field": "base"}, "x": {"datum": -1}, "x2": {"datum": 1}}},
        {"data": {"name": "surfaces"}, "mark": {"type": "rule"},
         "encoding": {"y": {"field": "depth", "type": "quantitative"}, "x": {"datum": -1}, "x2": {"datum": 1},
           "color": {"field": "surface", "type": "nominal", "scale": {"domain": ["H1", "H2", "Sand top", "GWC", "Sand base"], "range": ["#707070", "#4b4bf0", "#a0a0c8", "#4b4bf0", "#8c8cf2"]}, "legend": null},
           "strokeWidth": {"field": "surface", "type": "nominal", "scale": {"type": "ordinal", "domain": ["H1", "H2", "Sand top", "GWC", "Sand base"], "range": [2, 1.6, 3.5, 1.6, 3.5]}, "legend": null}}},
        {"data": {"name": "depthTicks"}, "transform": [{"filter": "datum.depth > 340"}],
         "mark": {"type": "rule", "color": "#555555", "strokeWidth": 1.5},
         "encoding": {"y": {"field": "depth", "type": "quantitative"}, "x": {"datum": -1}, "x2": {"datum": -0.924}}},
        {"data": {"name": "depthTicks"}, "transform": [{"filter": "datum.depth > 340"}],
         "mark": {"type": "rule", "color": "#555555", "strokeWidth": 1.5},
         "encoding": {"y": {"field": "depth", "type": "quantitative"}, "x": {"datum": 0.924}, "x2": {"datum": 1}}},
        {"mark": {"type": "rule", "color": "#000000", "strokeWidth": 2}, "encoding": {"x": {"datum": -1}, "y": {"datum": 329.34}, "y2": {"datum": 520.17}}},
        {"mark": {"type": "rule", "color": "#000000", "strokeWidth": 2.5}, "encoding": {"x": {"datum": -1}, "x2": {"datum": 1}, "y": {"datum": 329.42}}},
        {"mark": {"type": "rule", "color": "#000000", "strokeWidth": 2}, "encoding": {"x": {"datum": -1}, "x2": {"datum": 1}, "y": {"datum": 339.85}}},
        {"mark": {"type": "text", "text": "Sg=70%", "font": "Lato", "fontWeight": "bold", "fontSize": 41, "align": "center", "baseline": "alphabetic", "color": "#000000"},
         "encoding": {"x": {"datum": -0.03}, "y": {"datum": 336.3}}}
      ]
    },
    {
      "width": 163, "height": 1131,
      "data": {"values": [{}]},
      "layer": [
        {"mark": {"type": "rect", "color": {"gradient": "linear", "x1": 0, "y1": 0, "x2": 1, "y2": 1, "stops": [{"offset": 0, "color": "#f3f3f3"}, {"offset": 0.35, "color": "#e9e9e9"}, {"offset": 0.6, "color": "#eeeeee"}, {"offset": 1, "color": "#e4e4e4"}]}},
         "encoding": {"x": {"datum": 0, "type": "quantitative", "scale": {"domain": [0, 1], "nice": false, "zero": false}}, "x2": {"datum": 1}, "y": {"datum": 328.83, "type": "quantitative", "scale": {"domain": [328.83, 520.17], "reverse": true, "nice": false, "zero": false}}, "y2": {"datum": 520.17}}},
        {"mark": {"type": "rule", "color": "#000000", "strokeWidth": 3}, "encoding": {"x": {"datum": 0.002}, "y": {"datum": 329.2}, "y2": {"datum": 520.17}}},
        {"mark": {"type": "rule", "color": "#ff0000", "strokeWidth": 4.5, "strokeCap": "round"}, "encoding": {"x": {"datum": 0.03}, "x2": {"datum": 0.15}, "y": {"datum": 415.28}}},
        {"mark": {"type": "rule", "color": "#ff0000", "strokeWidth": 4.5, "strokeCap": "round"}, "encoding": {"x": {"datum": 0.153}, "y": {"datum": 415.28}, "y2": {"datum": 424.92}}},
        {"mark": {"type": "rule", "color": "#ff0000", "strokeWidth": 4.5, "strokeCap": "round"}, "encoding": {"x": {"datum": 0.153}, "x2": {"datum": 0.27}, "y": {"datum": 420.35}}},
        {"mark": {"type": "rule", "color": "#ff0000", "strokeWidth": 4.5, "strokeCap": "round"}, "encoding": {"x": {"datum": 0.03}, "x2": {"datum": 0.15}, "y": {"datum": 424.92}}},
        {"mark": {"type": "text", "text": "Gas", "font": "Lato", "fontWeight": "bold", "fontSize": 52, "align": "left", "baseline": "alphabetic", "color": "#ff0000"},
         "encoding": {"x": {"datum": 0.393}, "y": {"datum": 422.72}}}
      ]
    }
  ]
}
